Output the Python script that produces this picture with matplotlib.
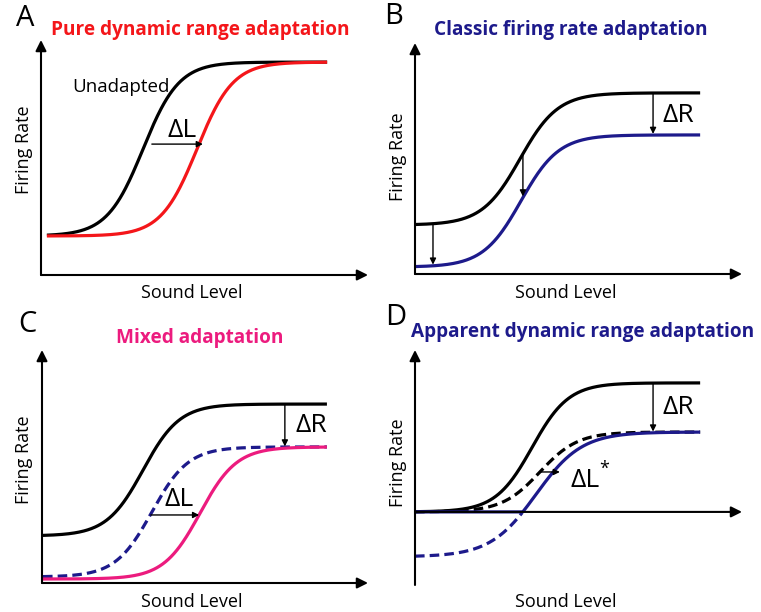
import numpy as np
import matplotlib
matplotlib.use('Agg')
import matplotlib.pyplot as plt

plt.rcParams['font.family'] = ['Open Sans', 'DejaVu Sans']

W, H = 761, 612

RED = '#f4161a'
NAVY = '#1d1a8b'
PINK = '#ec1b7e'

# curve parameters (axis units 0..100)
# each entry: (low, high, midpoint, width)
a_unadapted = (16.6, 90.6, 31.2, 5.5)
a_adapted = (16.6, 90.6, 47.7, 5.5)
a_span = (1.8, 87.5)

b_unadapted = (21.2, 78.4, 32.1, 5.8)
b_adapted = (3.0, 60.2, 32.4, 5.8)
b_span = (0.0, 87.2)
b_drops = [5.5, 33.0, 72.8]

c_unadapted = (20.2, 76.8, 31.0, 5.6)
c_rate_only = (2.6, 58.4, 33.7, 5.6)
c_adapted = (1.7, 58.4, 48.5, 5.6)
c_span = (0.3, 87.4)

d_unadapted = (0.0, 54.9, 35.8, 5.6)
d_rate_only = (0.0, 34.0, 38.2, 5.8)
d_adapted = (-19.1, 34.0, 37.0, 7.0)
d_span = (0.0, 87.2)


def sig(x, p):
    lo, hi, m, s = p
    return lo + (hi - lo) / (1 + np.exp(-(x - m) / s))


def panel(l, r, t, b, ylim=(0, 100)):
    ax = fig.add_axes([l / W, 1 - b / H, (r - l) / W, (b - t) / H])
    ax.set_xlim(0, 100)
    ax.set_ylim(*ylim)
    ax.axis('off')
    return ax


def axes_arrows(ax, y0=None):
    ap = dict(arrowstyle='-|>', color='black', lw=1.5, mutation_scale=16,
              shrinkA=0, shrinkB=0)
    lo, hi = ax.get_ylim()
    if y0 is None:
        y0 = lo
    ax.annotate('', xy=(0, hi), xytext=(0, lo), arrowprops=ap, annotation_clip=False)
    ax.annotate('', xy=(100, y0), xytext=(0, y0), arrowprops=ap, annotation_clip=False)


def small_arrow(ax, x0, y0, x1, y1):
    ax.annotate('', xy=(x1, y1), xytext=(x0, y0),
                arrowprops=dict(arrowstyle='-|>', color='black', lw=1.0,
                                mutation_scale=9, shrinkA=0, shrinkB=0))


fig = plt.figure(figsize=(W / 100, H / 100), dpi=100)

lw = 2.3
lab = dict(fontsize=13)
big = dict(fontsize=19)
dash = (0, (3, 1.6))

# ---- A
ax = panel(41, 368, 40, 275)
axes_arrows(ax)
x = np.linspace(*a_span, 300)
ax.plot(x, sig(x, a_unadapted), color='black', lw=lw, solid_capstyle='butt')
ax.plot(x, sig(x, a_adapted), color=RED, lw=lw, solid_capstyle='butt')
small_arrow(ax, 33.9, 55.7, 49.5, 55.7)
ax.text(43.3, 61.5, 'ΔL', ha='center', va='center', **big)
ax.text(24.5, 80, 'Unadapted', ha='center', va='center', fontsize=13.5)

# ---- B
ax = panel(415, 742, 43, 274)
axes_arrows(ax)
x = np.linspace(*b_span, 300)
ax.plot(x, sig(x, b_unadapted), color='black', lw=lw, solid_capstyle='butt')
ax.plot(x, sig(x, b_adapted), color=NAVY, lw=lw, solid_capstyle='butt')
for xd in b_drops:
    small_arrow(ax, xd, sig(xd, b_unadapted), xd, sig(xd, b_adapted) + 0.5)
ax.text(80.5, 68.5, 'ΔR', ha='center', va='center', **big)

# ---- C
ax = panel(42, 368, 350, 583)
axes_arrows(ax)
x = np.linspace(*c_span, 300)
ax.plot(x, sig(x, c_unadapted), color='black', lw=lw, solid_capstyle='butt')
ax.plot(x, sig(x, c_rate_only), color=NAVY, lw=lw, ls=dash)
ax.plot(x, sig(x, c_adapted), color=PINK, lw=lw, solid_capstyle='butt')
small_arrow(ax, 33.4, 29.2, 48.2, 29.2)
ax.text(42.0, 36.0, 'ΔL', ha='center', va='center', **big)
small_arrow(ax, 74.5, 76.8, 74.5, 58.6)
ax.text(82.5, 67.5, 'ΔR', ha='center', va='center', **big)

# ---- D
ax = panel(415, 742, 350, 585, ylim=(-31.1, 68.9))
axes_arrows(ax, y0=0)
x = np.linspace(*d_span, 400)
yb = sig(x, d_adapted)
ax.plot(x, np.where(yb < 0, yb, np.nan), color=NAVY, lw=lw, ls=dash)
ax.plot(x, sig(x, d_unadapted), color='black', lw=lw, solid_capstyle='butt')
ax.plot(x, sig(x, d_rate_only), color='black', lw=lw, ls=dash)
ax.plot(x, np.maximum(yb, 0), color=NAVY, lw=lw, solid_capstyle='butt')
small_arrow(ax, 38.5, 17.0, 44.3, 17.0)
dl = ax.text(47.5, 13.5, 'ΔL', ha='left', va='center', **big)
ax.annotate('*', xy=(1.0, 0.95), xycoords=dl, ha='left', va='center', fontsize=13)
small_arrow(ax, 72.8, 54.9, 72.8, 34.2)
ax.text(80.5, 44.5, 'ΔR', ha='center', va='center', **big)

# ---- labels and titles (figure pixel positions)
def ftext(px, py, s, **kw):
    fig.text(px / W, 1 - py / H, s, ha='center', va='center', **kw)

for cx, cy in [(24, 150), (398, 157), (24, 460), (398, 463)]:
    ftext(cx, cy, 'Firing Rate', rotation=90, **lab)
ftext(192, 293, 'Sound Level', **lab)
ftext(566, 293, 'Sound Level', **lab)
ftext(192, 602, 'Sound Level', **lab)
ftext(566, 602, 'Sound Level', **lab)

ftext(25, 19, 'A', fontsize=21)
ftext(394, 16, 'B', fontsize=21)
ftext(27, 325, 'C', fontsize=21)
ftext(396, 317, 'D', fontsize=21)

tkw = dict(fontsize=13.7, fontweight='bold')
ftext(200, 30, 'Pure dynamic range adaptation', color=RED, **tkw)
ftext(571, 30, 'Classic firing rate adaptation', color=NAVY, **tkw)
ftext(200, 338, 'Mixed adaptation', color=PINK, **tkw)
ftext(583, 332, 'Apparent dynamic range adaptation', color=NAVY, **tkw)

fig.savefig('out.png', dpi=100)
